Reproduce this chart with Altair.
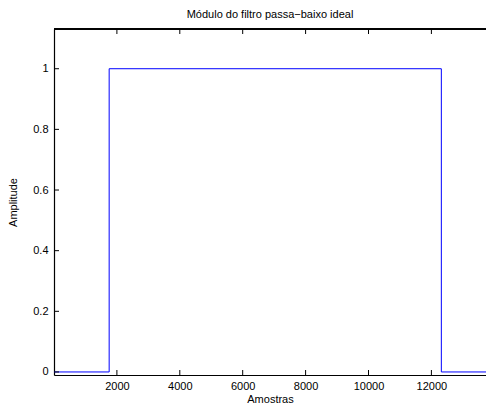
import altair as alt
import pandas as pd

# Data: ideal low-pass filter magnitude (step edges)
edge_samples = [0, 1754, 12316, 14069]
edge_amplitude = [0, 1, 0, 0]
x_ticks = [2000, 4000, 6000, 8000, 10000, 12000]
y_ticks = [0, 0.2, 0.4, 0.6, 0.8, 1.0]

X_DOMAIN = [0, 13736]
Y_DOMAIN = [-0.01, 1.131]
W, H = 432, 346
FONT = "Liberation Sans"

df = pd.DataFrame({"x": edge_samples, "y": edge_amplitude})
dx = pd.DataFrame({"t": x_ticks})
dy = pd.DataFrame({"t": y_ticks})

xs = alt.Scale(domain=X_DOMAIN, nice=False, zero=False)
ys = alt.Scale(domain=Y_DOMAIN, nice=False, zero=False)

line = alt.Chart(df).mark_line(
    interpolate="step-after", color="#0000ff", strokeWidth=1, clip=True
).encode(
    x=alt.X("x:Q", scale=xs, title="Amostras",
            axis=alt.Axis(values=x_ticks, format="d", ticks=False, labelPadding=5,
                          domainColor="black", domainWidth=1.2,
                          labelFont=FONT, labelFontSize=11, labelColor="black",
                          titleFont=FONT, titleFontSize=11, titleFontWeight="normal",
                          titleColor="black", titlePadding=2, grid=False)),
    y=alt.Y("y:Q", scale=ys, title="Amplitude",
            axis=alt.Axis(values=y_ticks, format="~g", ticks=False, labelPadding=6,
                          domainColor="black", domainWidth=1.2,
                          labelFont=FONT, labelFontSize=11, labelColor="black",
                          titleFont=FONT, titleFontSize=11, titleFontWeight="normal",
                          titleColor="black", titlePadding=14, grid=False)),
)

# inward ticks at bottom and top
bottom_ticks = alt.Chart(dx).mark_rule(color="black", strokeWidth=1).encode(
    x=alt.X("t:Q", scale=xs), y=alt.value(H), y2=alt.value(H - 5))
top_ticks = alt.Chart(dx).mark_rule(color="black", strokeWidth=1).encode(
    x=alt.X("t:Q", scale=xs), y=alt.value(0), y2=alt.value(5))
left_ticks = alt.Chart(dy).mark_rule(color="black", strokeWidth=1).encode(
    y=alt.Y("t:Q", scale=ys), x=alt.value(0), x2=alt.value(5))
top_border = alt.Chart(dx).mark_rule(color="black", strokeWidth=1.2).encode(
    x=alt.value(0), x2=alt.value(W), y=alt.value(0))

chart = alt.layer(line, bottom_ticks, top_ticks, left_ticks, top_border).properties(
    width=W, height=H,
    title=alt.TitleParams("Módulo do filtro passa\u2212baixo ideal", font=FONT,
                          fontSize=11, fontWeight="normal", color="black", offset=8),
    autosize=alt.AutoSizeParams(type="none"),
    padding={"left": 54, "top": 29, "right": 0, "bottom": 39},
).configure_view(stroke=None).configure(background="white")

chart.save("out.html", embed_options={"renderer": "svg", "actions": False})
